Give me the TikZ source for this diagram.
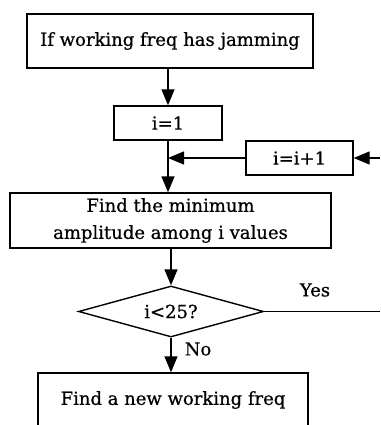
\documentclass[tikz,border=0pt]{standalone}
\usepackage{fontspec}
\setmainfont{DejaVu Serif}[FakeBold=0.6]
\usetikzlibrary{shapes.geometric,arrows.meta,calc}
\begin{document}
\begin{tikzpicture}[x=1pt,y=-1pt,
  every node/.style={font=\fontsize{18}{27}\selectfont},
  box/.style={draw,line width=1.4pt,inner sep=0pt,align=center},
  dia/.style={draw,line width=1.4pt,diamond,inner sep=0pt,minimum width=185pt,minimum height=51pt,aspect=3.6},
  flow/.style={line width=1.4pt,-{Triangle[length=16pt,width=13pt]}},
  plain/.style={line width=1.4pt},
  lbl/.style={inner sep=0pt}]
\useasboundingbox (0,0) rectangle (380,425);
\clip (0,0) rectangle (380,425);
\node[box,minimum width=286pt,minimum height=54pt] (top) at (170,41) {If working freq has jamming};
\node[box,minimum width=108pt,minimum height=34pt] (i1) at (168,123) {i=1};
\node[box,minimum width=107pt,minimum height=34pt] (inc) at (299.5,158) {i=i+1};
\node[box,minimum width=321pt,minimum height=55pt] (find) at (170.5,220.5) {Find the minimum\\amplitude among i values};
\node[dia] (cond) at (171,311.5) {i<25?};
\node[box,minimum width=270pt,minimum height=54pt] (new) at (173,400) {Find a new working freq};
\coordinate (j) at (168,158);
\coordinate (rin) at (380,158);
\coordinate (rout) at (380,311.5);
\draw[flow] (i1.north |- top.south) -- (i1.north);
\draw[flow] (i1.south) -- (i1.south |- find.north);
\draw[flow] (inc.west) -- (j);
\draw[flow] (rin) -- (inc.east);
\draw[flow] (cond.north |- find.south) -- (cond.north);
\draw[flow] (cond.south) -- (cond.south |- new.north);
\draw[plain] (cond.east) -- (rout);
\node[lbl] (yes) at (315,290) {Yes};
\node[lbl] (no) at (198,349) {No};
\end{tikzpicture}
\end{document}
